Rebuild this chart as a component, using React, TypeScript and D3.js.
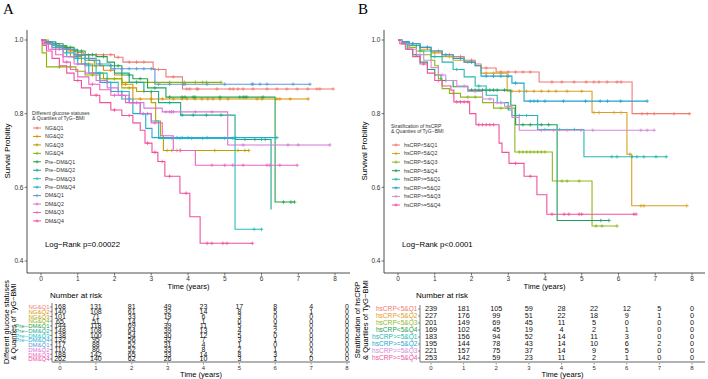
import React from 'react'
import * as d3 from 'd3'

// shared axis ticks
const timeTicks = [0, 1, 2, 3, 4, 5, 6, 7, 8]
const survTicks = [0.4, 0.6, 0.8, 1.0]

// ---------- panel A: glucose status x TyG-BMI quartiles ----------
const groupsA = ['NG&Q1', 'NG&Q2', 'NG&Q3', 'NG&Q4', 'Pre\u2212DM&Q1', 'Pre\u2212DM&Q2', 'Pre\u2212DM&Q3', 'Pre\u2212DM&Q4', 'DM&Q1', 'DM&Q2', 'DM&Q3', 'DM&Q4']
const colorsA = ['#F07A70', '#DE9000', '#BBA000', '#8DB300', '#27A34A', '#1CA98A', '#25BDC2', '#27A9D8', '#5C98D8', '#D677D6', '#EE63C4', '#F0509E']

// KM steps: [time of event, survival after it]
const stepsA = [
  [[0.1, 0.995], [0.25, 0.99], [0.4, 0.985], [0.6, 0.978], [0.8, 0.972], [1.0, 0.966], [1.15, 0.96], [2.0, 0.953], [2.23, 0.94], [3.05, 0.92], [3.4, 0.9], [3.85, 0.867]],
  [[0.15, 0.99], [0.4, 0.982], [0.7, 0.97], [0.95, 0.958], [1.2, 0.945], [1.45, 0.93], [1.7, 0.918], [2.0, 0.905], [2.2, 0.88], [2.5, 0.84]],
  [[0.2, 0.99], [0.5, 0.975], [0.8, 0.955], [1.1, 0.935], [1.4, 0.91], [1.7, 0.895], [2.2, 0.87], [2.6, 0.86], [3.0, 0.83], [3.12, 0.78], [3.25, 0.74], [3.33, 0.7]],
  [[0.03, 0.965], [0.15, 0.927], [0.95, 0.915], [1.2, 0.905], [1.6, 0.895], [2.2, 0.885]],
  [[0.1, 0.995], [0.3, 0.99], [0.6, 0.98], [0.9, 0.97], [1.2, 0.96], [1.5, 0.955], [1.8, 0.94], [2.0, 0.93], [2.2, 0.905], [2.5, 0.895], [2.9, 0.87], [3.4, 0.845], [6.37, 0.56]],
  [[0.1, 0.995], [0.4, 0.985], [0.7, 0.975], [1.0, 0.96], [1.3, 0.945], [1.6, 0.93], [2.0, 0.91], [2.4, 0.885], [2.8, 0.86], [3.2, 0.83], [3.8, 0.796], [5.28, 0.73], [6.26, 0.54]],
  [[0.1, 0.99], [0.3, 0.98], [0.6, 0.965], [0.9, 0.95], [1.2, 0.93], [1.5, 0.91], [1.8, 0.885], [2.1, 0.86], [2.4, 0.83], [2.7, 0.8], [3.0, 0.78], [3.2, 0.733], [5.28, 0.486]],
  [[0.1, 0.99], [0.4, 0.975], [0.7, 0.955], [1.0, 0.935], [1.3, 0.91], [1.6, 0.885], [1.9, 0.86], [2.2, 0.84], [2.5, 0.8], [2.85, 0.76], [3.02, 0.735]],
  [[0.1, 0.995], [0.3, 0.985], [0.6, 0.975], [0.9, 0.96], [1.2, 0.95], [1.5, 0.935], [1.9, 0.922], [3.1, 0.88]],
  [[0.1, 0.99], [0.3, 0.975], [0.6, 0.955], [0.9, 0.935], [1.2, 0.91], [1.5, 0.89], [1.8, 0.87], [2.1, 0.85], [2.4, 0.83], [2.8, 0.815], [3.3, 0.805], [5.08, 0.715]],
  [[0.05, 0.99], [0.2, 0.975], [0.4, 0.96], [0.6, 0.94], [0.8, 0.92], [1.0, 0.9], [1.3, 0.88], [1.6, 0.865], [1.9, 0.85], [2.3, 0.83], [2.7, 0.8], [3.0, 0.775], [3.3, 0.74], [3.6, 0.7], [4.2, 0.66]],
  [[0.05, 0.985], [0.15, 0.97], [0.3, 0.95], [0.5, 0.93], [0.7, 0.91], [0.9, 0.89], [1.1, 0.87], [1.35, 0.85], [1.6, 0.83], [1.9, 0.81], [2.2, 0.795], [2.5, 0.775], [2.7, 0.755], [2.83, 0.72], [3.02, 0.695], [3.18, 0.67], [3.37, 0.63], [3.78, 0.584], [4.05, 0.52], [4.33, 0.448]],
]
const endsA = [7.95, 7.27, 5.65, 4.9, 6.9, 6.26, 6.0, 6.42, 7.32, 7.86, 6.97, 5.75]
const censorsA = [
  [0.3, 0.5, 0.7, 0.9, 1.3, 1.5, 1.7, 1.9, 2.1, 2.4, 2.6, 2.8, 3.2, 3.6, 3.97, 4.05, 4.24, 4.27, 4.79, 5.14, 5.23, 5.36, 5.5, 5.77, 6.15, 6.42, 6.69, 6.97, 7.26, 7.51, 7.59, 7.95],
  [0.3, 0.6, 1.0, 1.5, 1.9, 2.3, 2.7, 3.0, 3.3, 3.6, 3.84, 3.97, 4.19, 4.38, 4.54, 4.68, 4.87, 5.09, 5.88, 6.01, 6.42, 6.5, 6.78, 7.27],
  [0.4, 0.9, 1.3, 1.8, 2.4, 2.8, 3.43, 3.56, 3.7, 3.78, 4.73, 5.36, 5.55, 5.65],
  [0.5, 0.8, 1.4, 2.0, 2.6, 3.1, 3.5, 3.9, 4.2, 4.4, 4.5, 4.9],
  [0.4, 0.8, 1.1, 1.4, 1.7, 2.1, 2.4, 2.7, 3.1, 3.5, 3.84, 3.92, 4.14, 4.19, 4.87, 5.41, 5.5, 5.55, 5.6, 6.04, 6.6, 6.8, 6.9],
  [0.5, 1.1, 1.9, 2.6, 3.0, 3.5, 3.84, 4.14, 4.5, 4.9, 5.55, 5.82, 6.0, 6.1],
  [0.5, 1.0, 1.6, 2.2, 2.9, 3.56, 3.78, 4.1, 4.4, 5.0, 5.22, 5.8, 6.0],
  [0.6, 1.2, 1.8, 2.4, 2.78, 3.24, 3.7, 3.84, 4.0, 4.52, 5.3, 6.42],
  [0.5, 1.0, 1.6, 2.0, 2.2, 2.4, 2.6, 2.8, 3.0, 3.2, 3.5, 3.87, 3.92, 4.52, 5.0, 5.74, 5.77, 5.96, 6.15, 6.86, 7.32],
  [0.5, 1.0, 1.6, 2.2, 2.6, 3.4, 3.5, 3.55, 3.6, 4.2, 4.65, 5.5, 6.72, 7.0, 7.86],
  [0.7, 1.4, 2.0, 2.5, 3.1, 3.8, 4.65, 5.0, 5.22, 5.5, 6.15, 6.23, 6.5, 6.97],
  [1.0, 1.5, 2.0, 2.4, 2.9, 3.1, 3.3, 3.5, 3.95, 4.52, 4.65, 4.95, 5.06, 5.75],
]
const riskA = [
  [168, 131, 81, 49, 23, 17, 8, 4, 0],
  [140, 108, 61, 32, 14, 8, 5, 1, 0],
  [101, 71, 33, 19, 6, 3, 0, 0, 0],
  [65, 51, 14, 7, 1, 0, 0, 0, 0],
  [144, 118, 69, 39, 11, 5, 4, 0, 0],
  [148, 108, 64, 39, 13, 4, 2, 0, 0],
  [138, 100, 54, 30, 12, 5, 0, 0, 0],
  [132, 95, 56, 32, 7, 3, 1, 0, 0],
  [117, 88, 52, 31, 4, 1, 0, 0, 0],
  [110, 86, 52, 33, 8, 2, 1, 0, 0],
  [188, 142, 65, 33, 14, 8, 3, 2, 0],
  [262, 140, 62, 26, 10, 3, 1, 0, 0],
]

// ---------- panel B: hsCRP x TyG-BMI quartiles ----------
const groupsB = ['hsCRP<5&Q1', 'hsCRP<5&Q2', 'hsCRP<5&Q3', 'hsCRP<5&Q4', 'hsCRP>=5&Q1', 'hsCRP>=5&Q2', 'hsCRP>=5&Q3', 'hsCRP>=5&Q4']
const colorsB = ['#F07A70', '#D9A01E', '#8DB81E', '#1E9E5A', '#22B8B0', '#1FA3D0', '#D38ADB', '#F0529C']
const stepsB = [
  [[0.1, 0.995], [0.3, 0.99], [0.6, 0.98], [0.9, 0.97], [1.2, 0.96], [1.5, 0.955], [1.8, 0.945], [2.1, 0.935], [2.26, 0.924], [2.67, 0.913], [3.84, 0.886], [6.37, 0.8]],
  [[0.1, 0.995], [0.3, 0.985], [0.6, 0.975], [0.9, 0.965], [1.2, 0.955], [1.5, 0.945], [1.8, 0.94], [2.1, 0.93], [2.26, 0.91], [2.97, 0.861], [5.28, 0.803], [6.23, 0.69], [6.36, 0.55]],
  [[0.1, 0.99], [0.3, 0.98], [0.5, 0.97], [0.7, 0.96], [0.9, 0.945], [1.0, 0.93], [1.1, 0.895], [1.2, 0.868], [1.4, 0.855], [1.7, 0.845], [2.3, 0.83], [2.6, 0.815], [3.18, 0.696], [4.2, 0.617], [5.28, 0.495]],
  [[0.1, 0.99], [0.25, 0.975], [0.4, 0.96], [0.6, 0.94], [0.8, 0.92], [1.0, 0.905], [1.17, 0.89], [1.5, 0.873], [1.9, 0.864], [3.07, 0.823], [3.2, 0.77], [4.33, 0.51]],
  [[0.1, 0.995], [0.3, 0.985], [0.6, 0.97], [0.9, 0.955], [1.2, 0.94], [1.5, 0.92], [1.8, 0.9], [2.1, 0.875], [2.4, 0.85], [2.7, 0.83], [3.0, 0.81], [3.1, 0.795], [3.8, 0.757], [5.06, 0.683]],
  [[0.1, 0.995], [0.3, 0.99], [0.6, 0.98], [0.9, 0.97], [1.2, 0.96], [1.5, 0.95], [1.8, 0.94], [2.1, 0.93], [2.26, 0.902], [3.1, 0.883], [3.43, 0.834]],
  [[0.1, 0.99], [0.3, 0.975], [0.5, 0.96], [0.7, 0.945], [0.9, 0.925], [1.1, 0.905], [1.3, 0.89], [1.6, 0.875], [1.9, 0.86], [2.3, 0.84], [2.6, 0.83], [2.9, 0.82], [3.1, 0.79], [3.3, 0.755]],
  [[0.05, 0.99], [0.2, 0.975], [0.4, 0.955], [0.6, 0.935], [0.8, 0.91], [1.0, 0.89], [1.2, 0.875], [1.44, 0.864], [1.52, 0.832], [1.95, 0.8], [2.12, 0.77], [2.75, 0.72], [2.83, 0.695], [3.02, 0.665], [3.43, 0.63], [3.78, 0.58], [4.05, 0.527]],
]
const endsB = [7.97, 7.86, 5.96, 5.74, 7.3, 6.78, 6.97, 6.48]
const censorsB = [
  [0.4, 0.8, 1.1, 1.4, 1.7, 2.0, 2.4, 2.8, 3.0, 3.2, 3.4, 3.6, 4.19, 4.46, 4.79, 5.12, 5.33, 5.47, 5.69, 5.96, 6.07, 6.64, 6.78, 6.97, 7.51, 7.92],
  [0.5, 1.0, 1.4, 1.9, 2.4, 2.6, 2.8, 3.1, 3.3, 3.5, 3.7, 3.9, 4.1, 4.3, 4.6, 5.0, 5.33, 5.47, 5.88, 6.07, 6.31, 6.61, 6.69, 7.86],
  [0.6, 1.5, 1.9, 2.1, 2.8, 3.0, 3.3, 3.4, 3.5, 3.6, 3.7, 3.8, 3.9, 4.0, 4.46, 4.6, 4.93, 5.39, 5.55, 5.96],
  [0.5, 1.3, 2.0, 2.1, 2.2, 2.3, 2.4, 2.5, 2.6, 2.7, 2.9, 3.4, 3.6, 3.9, 4.1, 5.52, 5.74],
  [0.5, 1.0, 1.6, 2.2, 2.8, 3.3, 3.5, 4.0, 4.4, 4.8, 5.82, 5.96, 6.37, 6.5, 6.69, 7.02, 7.3],
  [0.4, 0.8, 1.3, 1.7, 2.0, 2.4, 2.6, 2.8, 3.0, 3.2, 3.6, 3.7, 3.8, 4.0, 4.5, 5.1, 5.5, 5.7, 6.06, 6.78],
  [0.6, 1.2, 1.8, 2.1, 2.5, 2.7, 3.0, 3.9, 4.24, 4.6, 4.98, 5.3, 6.61, 6.78, 6.97],
  [0.7, 1.1, 1.6, 1.7, 1.8, 1.9, 2.2, 2.3, 2.4, 2.5, 2.6, 3.2, 3.6, 4.19, 4.52, 4.65, 4.93, 5.0, 6.42, 6.48],
]
const riskB = [
  [239, 181, 105, 59, 28, 22, 12, 5, 0],
  [227, 176, 99, 51, 22, 18, 9, 1, 0],
  [201, 149, 69, 45, 11, 5, 0, 0, 0],
  [169, 102, 45, 19, 4, 2, 1, 0, 0],
  [183, 156, 94, 52, 14, 11, 3, 0, 0],
  [195, 144, 78, 43, 14, 10, 6, 2, 0],
  [221, 157, 75, 37, 14, 9, 5, 0, 0],
  [253, 142, 59, 23, 11, 2, 1, 0, 0],
]

const SANS = "'Liberation Sans', Arial, sans-serif"

const survAt = (steps, t) => {
  let s = 1
  steps.forEach(([ti, si]) => { if (ti <= t) s = si })
  return s
}

const Plus = ({ cx, cy, color, r = 1.8 }) => (
  <path d={`M${cx - r},${cy}H${cx + r}M${cx},${cy - r}V${cy + r}`} stroke={color} strokeWidth={0.8} />
)

const Panel = ({ letter, groups, colors, steps, ends, censors, risk, texts, L }) => {
  const x = d3.scaleLinear().domain([0, 8]).range(L.xRange)
  const y = d3.scaleLinear().domain([0.4, 1]).range([261, 40])
  const tx = d3.scaleLinear().domain([0, 8]).range(L.tRange)
  const ty = d3.scalePoint().domain(groups).range(L.rows)
  const line = d3.line().x((d) => x(d[0])).y((d) => y(d[1])).curve(d3.curveStepAfter)

  return (
    <g fontFamily={SANS}>
      <text x={L.letterX} y={14} fontSize={15} fontFamily="'Liberation Serif', 'Times New Roman', serif">{letter}</text>

      {/* survival axes */}
      <line x1={L.axisX} x2={L.axisX} y1={30} y2={273} stroke="#222" strokeWidth={0.8} />
      <line x1={L.axisX} x2={L.axisRight} y1={273} y2={273} stroke="#222" strokeWidth={0.8} />
      {survTicks.map((v) => (
        <g key={v}>
          <line x1={L.axisX - 2.5} x2={L.axisX} y1={y(v)} y2={y(v)} stroke="#222" strokeWidth={0.6} />
          <text x={L.axisX - 3.5} y={y(v) + 2.2} fontSize={6.5} textAnchor="end" fill="#333">{v.toFixed(1)}</text>
        </g>
      ))}
      {timeTicks.map((t) => (
        <g key={t}>
          <line x1={x(t)} x2={x(t)} y1={273} y2={275.5} stroke="#222" strokeWidth={0.6} />
          <text x={x(t)} y={280.5} fontSize={6.5} textAnchor="middle" fill="#333">{t}</text>
        </g>
      ))}
      <text x={(L.axisX + L.axisRight) / 2} y={289} fontSize={7.5} textAnchor="middle">Time (years)</text>
      <text transform={`translate(${L.yTitleX},151) rotate(-90)`} fontSize={8} textAnchor="middle">{texts.yTitle}</text>

      {/* curves */}
      {groups.map((g, i) => {
        const pts = [[0, 1], ...steps[i], [ends[i], steps[i][steps[i].length - 1][1]]]
        return (
          <g key={g}>
            <path d={line(pts)} fill="none" stroke={colors[i]} strokeWidth={1.1} />
            {censors[i].map((c, j) => (
              <Plus key={j} cx={x(c)} cy={y(survAt(steps[i], c))} color={colors[i]} />
            ))}
          </g>
        )
      })}

      {/* legend */}
      <text x={L.legendX - 1} y={L.legendTitleY} fontSize={5} fill="#333">{texts.legend[0]}</text>
      <text x={L.legendX - 1} y={L.legendTitleY + 5.5} fontSize={5} fill="#333">{texts.legend[1]}</text>
      {groups.map((g, i) => {
        const ly = L.legendY + i * L.legendStep
        return (
          <g key={g}>
            <line x1={L.legendX} x2={L.legendX + 8} y1={ly} y2={ly} stroke={colors[i]} strokeWidth={1} />
            <Plus cx={L.legendX + 4} cy={ly} color={colors[i]} r={1.6} />
            <text x={L.legendX + 12} y={ly + 1.8} fontSize={5.3} fill="#333">{g}</text>
          </g>
        )
      })}
      <text x={L.logX} y={246.5} fontSize={7.8}>{texts.logRank}</text>

      {/* risk table */}
      <text x={L.riskTitleX} y={298} fontSize={8}>Number at risk</text>
      <line x1={L.tableX} x2={L.tableX} y1={L.rows[0] - 4} y2={362} stroke="#222" strokeWidth={0.6} />
      <line x1={L.tableX} x2={L.axisRight} y1={362} y2={362} stroke="#999" strokeWidth={1.6} />
      {groups.map((g, i) => (
        <g key={g}>
          <line x1={L.tableX - 2} x2={L.tableX} y1={ty(g)} y2={ty(g)} stroke="#222" strokeWidth={0.5} />
          <text x={L.tableX - 2.5} y={ty(g) + 2.3} fontSize={L.labelFont} textAnchor="end" fill={colors[i]}>{g}</text>
          {risk[i].map((n, k) => (
            <text key={k} x={tx(timeTicks[k])} y={ty(g) + 2.4} fontSize={L.tableFont} textAnchor="middle" fill="#111">{n}</text>
          ))}
        </g>
      ))}
      {timeTicks.map((t) => (
        <g key={t}>
          <line x1={tx(t)} x2={tx(t)} y1={363} y2={364.5} stroke="#222" strokeWidth={0.5} />
          <text x={tx(t)} y={369.5} fontSize={6} textAnchor="middle" fill="#333">{t}</text>
        </g>
      ))}
      <text x={(L.tableX + L.axisRight) / 2} y={377} fontSize={7.5} textAnchor="middle">Time (years)</text>
      <g transform={`translate(${L.tableTitleX},${L.tableTitleY}) rotate(-90)`} fontSize={L.tableTitleFont} textAnchor="middle">
        <text x={0} y={0}>{texts.table[0]}</text>
        <text x={0} y={7.5}>{texts.table[1]}</text>
      </g>
    </g>
  )
}

const layoutA = {
  letterX: 3, axisX: 27, axisRight: 350, xRange: [41, 335], yTitleX: 10,
  legendX: 33, legendTitleY: 114.5, legendY: 128, legendStep: 8.45, logX: 45,
  riskTitleX: 50, tableX: 52, tRange: [60, 347], rows: [307, 359], tableFont: 7, labelFont: 6.0,
  tableTitleX: 8.5, tableTitleY: 322, tableTitleFont: 7.3,
}
const layoutB = {
  letterX: 358, axisX: 384, axisRight: 705, xRange: [398, 692], yTitleX: 367,
  legendX: 392, legendTitleY: 127.5, legendY: 145, legendStep: 8.57, logX: 402,
  riskTitleX: 416, tableX: 420, tRange: [431, 692], rows: [309, 358], tableFont: 7.3, labelFont: 6.6,
  tableTitleX: 360, tableTitleY: 320, tableTitleFont: 7.6,
}

const App = () => (
  <svg width={708} height={379} style={{ position: 'absolute', left: 0, top: 0, background: '#fff' }}>
    <Panel
      letter="A" groups={groupsA} colors={colorsA} steps={stepsA} ends={endsA} censors={censorsA} risk={riskA} L={layoutA}
      texts={{
        yTitle: 'Survial Probility',
        legend: ['Different glucose statuses', '& Quartiles of TyG\u2212BMI'],
        logRank: 'Log\u2212Rank p=0.00022',
        table: ['Different glucose statuses', '& Quanties of TyG\u2212BMI'],
      }}
    />
    <Panel
      letter="B" groups={groupsB} colors={colorsB} steps={stepsB} ends={endsB} censors={censorsB} risk={riskB} L={layoutB}
      texts={{
        yTitle: 'Survival Probility',
        legend: ['Stratification of hsCRP', '& Quanties of TyG\u2212BMI'],
        logRank: 'Log\u2212Rank p<0.0001',
        table: ['Stratification of hsCRP', '& Quartiles of TyG\u2212BMI'],
      }}
    />
  </svg>
)

export default App
